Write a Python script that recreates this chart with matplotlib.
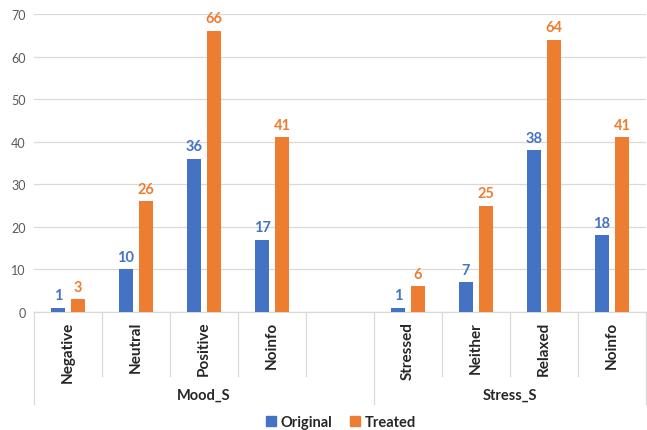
import matplotlib.pyplot as plt
import matplotlib.transforms as mtransforms
import numpy as np

plt.rcParams["font.family"] = ["Lato", "DejaVu Sans"]

# category slots; the empty one separates the two groups
categories = ["Negative", "Neutral", "Positive", "Noinfo", "",
              "Stressed", "Neither", "Relaxed", "Noinfo"]
original = [1, 10, 36, 17, None, 1, 7, 38, 18]
treated = [3, 26, 66, 41, None, 6, 25, 64, 41]
groups = ["Mood_S", "Stress_S"]
group_spans = [(0, 4), (5, 8)]

BLUE = "#4472C4"
ORANGE = "#ED7D31"
GREY = "#595959"
LINE = "#D9D9D9"

fig = plt.figure(figsize=(6.47, 4.31), dpi=100)
ax = fig.add_axes([34 / 647, 118 / 431, 612 / 647, 298 / 431])

x = np.arange(len(categories))
w = 0.22
off = 0.147
for i in x:
    if original[i] is None:
        continue
    ax.bar(i - off, original[i], w, color=BLUE, zorder=3)
    ax.bar(i + off, treated[i], w, color=ORANGE, zorder=3)
    ax.text(i - off, original[i] + 1.3, str(original[i]), ha="center", va="bottom",
            color=BLUE, fontsize=10.5, fontweight="bold")
    ax.text(i + off, treated[i] + 1.3, str(treated[i]), ha="center", va="bottom",
            color=ORANGE, fontsize=10.5, fontweight="bold")

ax.set_xlim(-0.5, len(categories) - 0.5)
ax.set_ylim(0, 70)
ax.set_yticks(range(0, 71, 10))
ax.yaxis.grid(True, color=LINE, lw=0.9, zorder=0)
ax.tick_params(axis="y", length=0, colors=GREY, labelsize=9, pad=6)
ax.tick_params(axis="x", length=0, labelbottom=False)
for s in ["top", "right", "left"]:
    ax.spines[s].set_visible(False)
ax.spines["bottom"].set_color(LINE)
ax.spines["bottom"].set_linewidth(0.9)

# multi-level category axis drawn below the plot
trans = mtransforms.blended_transform_factory(ax.transData, ax.transAxes)
h = 298.0
inner = -64 / h
outer = -92 / h
for i, name in enumerate(categories):
    if name:
        ax.text(i, -9 / h, name, rotation=90, ha="center", va="top",
                transform=trans, color="#262626", fontsize=11, fontweight="bold")
for b in np.arange(-0.5, len(categories), 1.0):
    bottom = outer if b in (-0.5, 4.5, len(categories) - 0.5) else inner
    ax.plot([b, b], [0, bottom], transform=trans, color=LINE, lw=0.9, clip_on=False)
for name, (a, b) in zip(groups, group_spans):
    ax.text((a - 0.5 + b + 0.5) / 2, -83 / h, name, ha="center", va="center",
            transform=trans, color="#262626", fontsize=10.5, fontweight="bold")

handles = [plt.Rectangle((0, 0), 1, 1, color=BLUE), plt.Rectangle((0, 0), 1, 1, color=ORANGE)]
leg = fig.legend(handles, ["Original", "Treated"], loc="center", bbox_to_anchor=(341 / 647, 8 / 431),
                 ncol=2, frameon=False, handlelength=0.7, handleheight=0.7,
                 handletextpad=0.3, columnspacing=1.2,
                 prop={"size": 10.5, "weight": "bold"})
for t in leg.get_texts():
    t.set_color("#262626")

fig.savefig("out.png", dpi=100)
